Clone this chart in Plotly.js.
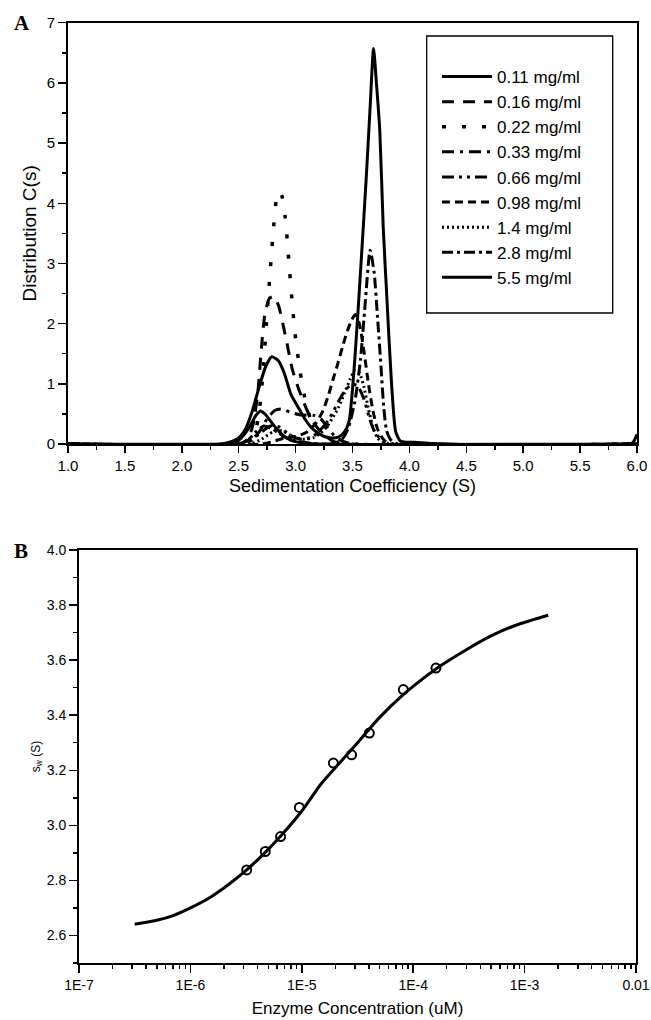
<!DOCTYPE html>
<html>
<head>
<meta charset="utf-8">
<script src="https://cdn.plot.ly/plotly-3.0.1.min.js"></script>
<style>html,body{margin:0;padding:0;background:#fff}#chart{width:651px;height:1020px}</style>
</head>
<body>
<div id="chart"></div>
<script>
// ---------- Panel A: c(s) distributions ----------
const seriesNames = ['0.11 mg/ml','0.16 mg/ml','0.22 mg/ml','0.33 mg/ml','0.66 mg/ml','0.98 mg/ml','1.4 mg/ml','2.8 mg/ml','5.5 mg/ml'];

const x011 = [1.0, 2.35, 2.45, 2.5, 2.55, 2.6, 2.65, 2.69, 2.73, 2.78, 2.83, 2.88, 2.95, 3.05, 3.2, 6.0];
const y011 = [0, 0, 0.02, 0.06, 0.16, 0.3, 0.47, 0.55, 0.5, 0.38, 0.26, 0.16, 0.07, 0.02, 0, 0];

const x016 = [1.0, 2.5, 2.58, 2.63, 2.67, 2.70, 2.73, 2.77, 2.81, 2.85, 2.89, 2.93, 2.97, 3.02, 3.07, 3.12, 3.2, 3.3, 3.4, 6.0];
const y016 = [0, 0, 0.08, 0.35, 0.9, 1.6, 2.15, 2.42, 2.45, 2.3, 1.98, 1.62, 1.25, 0.95, 0.7, 0.48, 0.25, 0.08, 0, 0];

const x022 = [1.0, 2.55, 2.62, 2.67, 2.71, 2.74, 2.77, 2.80, 2.83, 2.855, 2.88, 2.91, 2.94, 2.97, 3.0, 3.04, 3.08, 3.13, 3.2, 3.3, 6.0];
const y022 = [0, 0, 0.1, 0.4, 1.1, 1.9, 2.7, 3.45, 4.05, 4.2, 4.12, 3.75, 3.05, 2.35, 1.75, 1.2, 0.78, 0.42, 0.15, 0.03, 0];

const x033 = [1.0, 2.5, 2.6, 2.68, 2.75, 2.82, 2.88, 2.95, 3.05, 3.15, 3.22, 3.28, 3.35, 3.45, 6.0];
const y033 = [0, 0, 0.05, 0.2, 0.42, 0.56, 0.58, 0.53, 0.48, 0.48, 0.42, 0.28, 0.12, 0.02, 0];

const x066 = [1.0, 2.5, 2.6, 2.7, 2.78, 2.86, 2.95, 3.05, 3.15, 3.25, 3.32, 3.38, 3.44, 3.5, 3.55, 3.6, 3.65, 3.7, 3.78, 3.85, 6.0];
const y066 = [0, 0, 0.05, 0.2, 0.3, 0.28, 0.15, 0.08, 0.12, 0.3, 0.5, 0.72, 0.9, 1.0, 0.95, 0.75, 0.42, 0.18, 0.04, 0, 0];

const x098 = [1.0, 2.7, 2.8, 2.9, 3.0, 3.1, 3.18, 3.24, 3.29, 3.33, 3.37, 3.41, 3.45, 3.49, 3.525, 3.56, 3.6, 3.64, 3.68, 3.72, 3.77, 3.83, 6.0];
const y098 = [0, 0, 0.04, 0.1, 0.12, 0.2, 0.35, 0.55, 0.82, 1.08, 1.33, 1.6, 1.85, 2.05, 2.15, 2.0, 1.55, 1.0, 0.55, 0.25, 0.08, 0, 0];

const x14 = [1.0, 2.6, 2.7, 2.8, 2.88, 2.95, 3.05, 3.15, 3.22, 3.28, 3.33, 3.38, 3.43, 3.48, 3.52, 3.56, 3.6, 3.64, 3.68, 3.72, 3.78, 6.0];
const y14 = [0, 0, 0.08, 0.2, 0.22, 0.15, 0.08, 0.1, 0.18, 0.3, 0.45, 0.62, 0.85, 1.08, 1.22, 1.18, 0.95, 0.58, 0.28, 0.1, 0.02, 0];

const x28 = [1.0, 2.5, 2.58, 2.65, 2.72, 2.8, 2.9, 3.0, 3.1, 3.3, 3.4, 3.46, 3.52, 3.57, 3.61, 3.655, 3.69, 3.72, 3.75, 3.775, 3.8, 3.84, 3.9, 6.0];
const y28 = [0, 0, 0.06, 0.2, 0.3, 0.25, 0.12, 0.05, 0.02, 0, 0.06, 0.25, 0.7, 1.4, 2.3, 3.22, 2.85, 2.1, 1.3, 0.6, 0.22, 0.06, 0, 0];

const x55 = [1.0, 2.35, 2.42, 2.5, 2.56, 2.62, 2.68, 2.74, 2.79, 2.85, 2.9, 2.96, 3.02, 3.08, 3.14, 3.2, 3.26, 3.32, 3.38, 3.43, 3.47, 3.52, 3.57, 3.62, 3.655, 3.685, 3.71, 3.74, 3.77, 3.8, 3.84, 3.88, 3.92, 3.97, 4.05, 4.2, 5.95, 6.0];
const y55 = [0, 0, 0.03, 0.1, 0.25, 0.55, 0.95, 1.3, 1.45, 1.38, 1.18, 0.82, 0.62, 0.42, 0.27, 0.18, 0.12, 0.1, 0.12, 0.2, 0.38, 1.4, 2.85, 4.4, 5.6, 6.57, 6.0, 5.2, 3.6, 2.5, 1.1, 0.2, 0.05, 0.03, 0.03, 0.01, 0, 0.16];

const seriesX = [x011, x016, x022, x033, x066, x098, x14, x28, x55];
const seriesY = [y011, y016, y022, y033, y066, y098, y14, y28, y55];
const dashes = ['solid','12px,9px','4px,16px','12px,6px,3px,6px','12px,5px,3px,5px,3px,5px','8px,5px','2px,3px','11px,4px,3px,4px','solid'];
const widths = [3, 3, 3.5, 3, 3, 3, 3, 3, 3];

// ---------- Panel B: weight-average s vs concentration ----------
const concPts = [3.2e-6, 4.7e-6, 6.45e-6, 9.5e-6, 1.92e-5, 2.8e-5, 4.04e-5, 8.15e-5, 1.6e-4];
const swPts   = [2.838, 2.905, 2.959, 3.065, 3.226, 3.256, 3.335, 3.493, 3.571];

const concFit = [3.16e-7, 5e-7, 7e-7, 1e-6, 1.5e-6, 2.2e-6, 3.2e-6, 4.7e-6, 6.5e-6, 1e-5, 1.5e-5, 2.2e-5, 3.2e-5, 5e-5, 8e-5, 1.2e-4, 1.8e-4, 3e-4, 5e-4, 8e-4, 1.2e-3, 1.63e-3];
const swFit   = [2.641, 2.655, 2.672, 2.700, 2.738, 2.785, 2.838, 2.902, 2.962, 3.052, 3.152, 3.228, 3.302, 3.392, 3.472, 3.530, 3.582, 3.638, 3.688, 3.724, 3.747, 3.763];

const xTickValsB = [1e-7, 1e-6, 1e-5, 1e-4, 1e-3, 1e-2];
const xTickTextB = ['1E-7', '1E-6', '1E-5', '1E-4', '1E-3', '0.01'];

// ---------- build ----------
const FONT = 'Liberation Sans, Arial, sans-serif';
const W = 651, H = 1020;
const px = v => v / W;
const py = v => 1 - v / H;

// minor tick positions for log axis (2..9 x each decade)
const minorLog = [];
for (let e = -7; e < -2; e++) for (let m = 2; m <= 9; m++) minorLog.push(m * Math.pow(10, e));

const traces = seriesNames.map((n, i) => ({
  type: 'scatter', mode: 'lines', name: n,
  x: seriesX[i], y: seriesY[i],
  xaxis: 'x', yaxis: 'y',
  line: {color: '#000', width: widths[i], dash: dashes[i], shape: 'spline', smoothing: 0.6},
  showlegend: true
}));

traces.push({
  type: 'scatter', mode: 'lines', x: concFit, y: swFit, xaxis: 'x2', yaxis: 'y2',
  line: {color: '#000', width: 3, shape: 'spline', smoothing: 1}, showlegend: false
});
traces.push({
  type: 'scatter', mode: 'markers', x: concPts, y: swPts, xaxis: 'x2', yaxis: 'y2',
  marker: {symbol: 'circle-open', size: 9, color: '#000', line: {width: 2, color: '#000'}},
  showlegend: false
});

const axisCommon = {
  showline: true, linecolor: '#000', linewidth: 2, mirror: true,
  ticks: 'outside', tickcolor: '#000', tickwidth: 1.5,
  showgrid: false, zeroline: false,
  tickfont: {family: FONT, size: 15, color: '#000'}
};

const layout = {
  width: W, height: H,
  margin: {l: 0, r: 0, t: 0, b: 0},
  paper_bgcolor: '#fff', plot_bgcolor: '#fff',
  font: {family: FONT, color: '#000'},
  xaxis: Object.assign({}, axisCommon, {
    domain: [px(68), px(637)], anchor: 'y', range: [1, 6],
    tick0: 1, dtick: 0.5, tickformat: '.1f', ticklen: 7,
    minor: {dtick: 0.25, ticklen: 4, ticks: 'outside', tickcolor: '#000', tickwidth: 1.5, showgrid: false},
    title: {text: 'Sedimentation Coefficiency (S)', font: {family: FONT, size: 18, color: '#000'}, standoff: 6}
  }),
  yaxis: Object.assign({}, axisCommon, {
    domain: [py(444), py(22.7)], anchor: 'x', range: [0, 7],
    tick0: 0, dtick: 1, ticklen: 8,
    minor: {dtick: 0.5, ticklen: 4, ticks: 'outside', tickcolor: '#000', tickwidth: 1.5, showgrid: false},
    title: {text: 'Distribution C(s)', font: {family: FONT, size: 19, color: '#000'}, standoff: 5}
  }),
  xaxis2: Object.assign({}, axisCommon, {
    domain: [px(79), px(636)], anchor: 'y2', type: 'log', range: [-7, -2],
    tickmode: 'array', tickvals: xTickValsB, ticktext: xTickTextB, ticklen: 8,
    tickfont: {family: FONT, size: 14, color: '#000'},
    minor: {tickmode: 'array', tickvals: minorLog, ticklen: 4, ticks: 'outside', tickcolor: '#000', tickwidth: 1.5, showgrid: false},
    title: {text: 'Enzyme Concentration (uM)', font: {family: FONT, size: 17, color: '#000'}, standoff: 10}
  }),
  yaxis2: Object.assign({}, axisCommon, {
    domain: [py(963), py(550)], anchor: 'x2', range: [2.5, 4.0],
    tick0: 2.6, dtick: 0.2, tickformat: '.1f', ticklen: 8,
    tickfont: {family: FONT, size: 14, color: '#000'},
    minor: {dtick: 0.1, ticklen: 4, ticks: 'outside', tickcolor: '#000', tickwidth: 1.5, showgrid: false},
    title: {text: 's<sub>w</sub> (S)', font: {family: FONT, size: 12, color: '#000'}, standoff: 4}
  }),
  showlegend: true,
  legend: {
    x: px(437), y: py(59), xanchor: 'left', yanchor: 'top',
    bgcolor: 'rgba(0,0,0,0)', borderwidth: 0,
    font: {family: FONT, size: 17, color: '#000'},
    itemwidth: 50, tracegroupgap: 0
  },
  shapes: [{
    type: 'rect', xref: 'paper', yref: 'paper',
    x0: px(426.7), x1: px(612.7), y0: py(313), y1: py(36),
    line: {color: '#000', width: 1.3}, fillcolor: 'rgba(0,0,0,0)'
  }],
  annotations: [
    {text: '<b>A</b>', xref: 'paper', yref: 'paper', x: px(12), y: py(23), xanchor: 'left', yanchor: 'middle', showarrow: false,
     font: {family: 'Liberation Serif, Times New Roman, serif', size: 21, color: '#000'}},
    {text: '<b>B</b>', xref: 'paper', yref: 'paper', x: px(12), y: py(551), xanchor: 'left', yanchor: 'middle', showarrow: false,
     font: {family: 'Liberation Serif, Times New Roman, serif', size: 21, color: '#000'}}
  ]
};

Plotly.newPlot('chart', traces, layout, {displayModeBar: false, staticPlot: true});
</script>
</body>
</html>
